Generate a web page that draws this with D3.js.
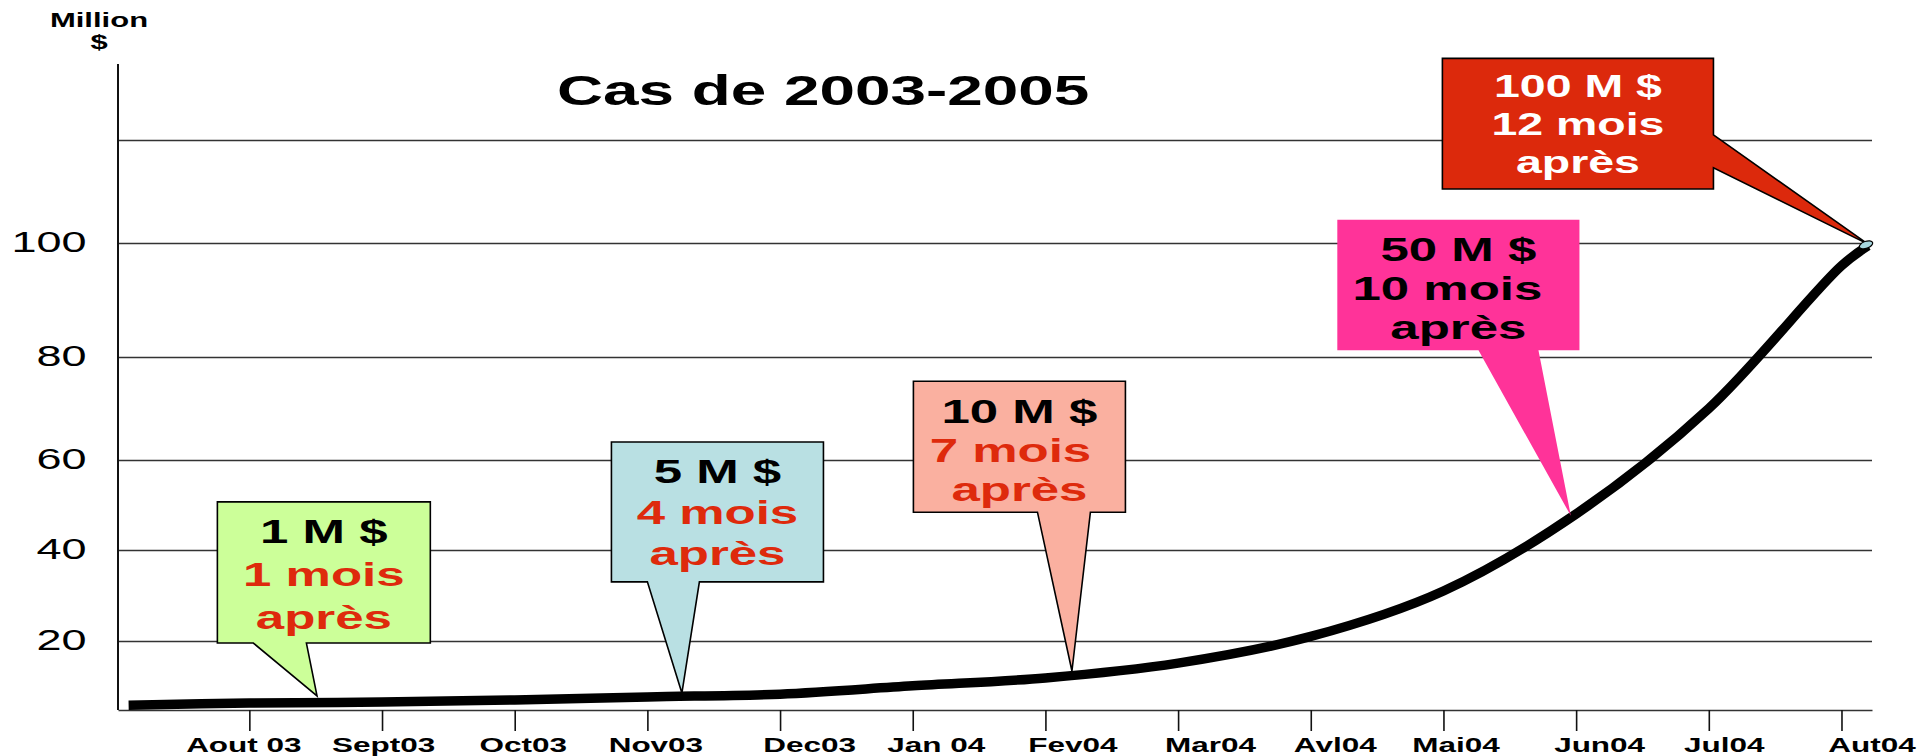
<!DOCTYPE html>
<html>
<head>
<meta charset="utf-8">
<script src="https://cdn.jsdelivr.net/npm/d3@7/dist/d3.min.js"></script>
<style>
  body { margin: 0; background: #fff; }
  svg { display: block; font-family: "Liberation Sans", Arial, sans-serif; }
</style>
</head>
<body>
<div id="chart"></div>
<script>
// ---- data ----
var months = ["Aout 03", "Sept03", "Oct03", "Nov03", "Dec03", "Jan 04", "Fev04",
              "Mar04", "Avl04", "Mai04", "Jun04", "Jul04", "Aut04"];
// position along the month axis (0 = Aout 03) and amount in million $
var curveMonth = [-0.91, 0, 1, 2, 3, 4, 5, 6, 7, 8, 9, 10, 11, 12, 12.2];
var curveValue = [1.4, 2.0, 2.3, 2.9, 3.8, 4.6, 7.0, 9.3, 13.6, 21, 31, 48, 70, 96, 99.5];
var yTicks = [20, 40, 60, 80, 100];
var gridValues = [20, 40, 60, 80, 100, 120];

var calloutAmount = ["1 M $", "5 M $", "10 M $", "50 M $", "100 M $"];
var calloutDelay = ["1 mois", "4 mois", "7 mois", "10 mois", "12 mois"];
var calloutAfter = "après";
var calloutTipMonth = [0.51, 3.26, 6.2, 9.96, 12.2];
var calloutTipValue = [4.1, 4.9, 11.3, 47.6, 99.8];

var title = "Cas de 2003-2005";

// ---- layout ----
var W = 1932, H = 756;
var SX = 1.5; // text in the original is stretched sideways
var RED = "#de2a0c";

// the value axis of the original is not evenly spaced
var yBreaks = [0, 20, 40, 60, 80, 100, 120, 134.8];
var yPixels = [710, 641, 550, 460, 357, 243, 140, 64];

// month labels sit a little to the right of their ticks in the original
var labelNudge = [-6, 1, 8, 8, 29, 23, 27, 32, 24, 12, 23, 15, 30];

var x = d3.scaleLinear().domain([-0.99, 12.23]).range([118, 1872]);
var y = d3.scaleLinear().domain(yBreaks).range(yPixels);

// callout boxes in chart units (month, value)
var boxes = [
    { x0: -0.241, x1: 1.364, top: 50.7, bottom: 19.4, base: [0.03, 0.43],
      fill: "#ccff99", stroke: "#000", colors: ["#000", RED, RED], size: 34, lead: 43, first: 41, shift: [0, 0, 0] },
    { x0: 2.729, x1: 4.327, top: 63.5, bottom: 33.0, base: [3.0, 3.392],
      fill: "#b9e0e3", stroke: "#000", colors: ["#000", RED, RED], size: 34, lead: 41, first: 41, shift: [0, 0, 0] },
    { x0: 5.005, x1: 6.603, top: 75.3, bottom: 48.4, base: [5.94, 6.339],
      fill: "#fab0a0", stroke: "#000", colors: ["#000", RED, RED], size: 34, lead: 39, first: 42, shift: [0, -9, 0] },
    { x0: 8.2, x1: 10.025, top: 104.5, bottom: 81.2, base: [9.264, 9.716],
      fill: "#ff3399", stroke: "none", colors: ["#000", "#000", "#000"], size: 34, lead: 39, first: 41, shift: [0, -11, 0] },
    { x0: 8.992, x1: 11.035, top: 135.9, bottom: 110.5, side: [121.0, 114.6],
      fill: "#dc290c", stroke: "#000", colors: ["#fff", "#fff", "#fff"], size: 31, lead: 38, first: 39, shift: [0, 0, 0] }
];

var svg = d3.select("#chart").append("svg")
    .attr("width", W)
    .attr("height", H);

// horizontal grid
svg.append("g")
    .attr("transform", "translate(" + x.range()[0] + ",0)")
    .call(d3.axisLeft(y).tickValues(gridValues).tickSize(-(x.range()[1] - x.range()[0])).tickFormat(""))
    .call(function (g) {
        g.select(".domain").remove();
        g.selectAll(".tick line").attr("stroke", "#333").attr("stroke-width", 1.3);
    });

// y labels
svg.append("g")
    .attr("transform", "translate(" + x.range()[0] + ",0)")
    .call(d3.axisLeft(y).tickValues(yTicks).tickSize(0).tickPadding(21))
    .call(function (g) {
        g.select(".domain").remove();
        g.selectAll(".tick text")
            .attr("dy", "0.27em")
            .attr("transform", "scale(" + SX + ",1)")
            .style("font-family", "'Liberation Sans', Arial, sans-serif")
            .style("font-size", "30px")
            .attr("fill", "#000");
    });

// y axis line
svg.append("line")
    .attr("x1", x.range()[0]).attr("x2", x.range()[0])
    .attr("y1", y(0)).attr("y2", y(134.8))
    .attr("stroke", "#111").attr("stroke-width", 2);

// x axis
svg.append("g")
    .attr("transform", "translate(0," + y(0) + ")")
    .call(d3.axisBottom(x).tickValues(d3.range(months.length)).tickFormat(function (i) { return months[i]; })
        .tickSize(21).tickSizeOuter(0).tickPadding(21))
    .call(function (g) {
        g.select(".domain").attr("stroke", "#333").attr("stroke-width", 1.3);
        g.selectAll(".tick line").attr("stroke", "#111").attr("stroke-width", 1.6);
        g.selectAll(".tick text")
            .attr("dy", "0")
            .attr("transform", function (i) { return "translate(" + labelNudge[i] + ",0) scale(1.5,1)"; })
            .style("font-family", "'Liberation Sans', Arial, sans-serif")
            .style("font-size", "21px")
            .style("font-weight", "bold")
            .attr("fill", "#000");
    });

// unit label
svg.append("text")
    .attr("transform", "translate(99,27) scale(1.55,1)")
    .attr("text-anchor", "middle")
    .style("font-size", "20px").style("font-weight", "bold")
    .text("Million");
svg.append("text")
    .attr("transform", "translate(99,49) scale(1.55,1)")
    .attr("text-anchor", "middle")
    .style("font-size", "20px").style("font-weight", "bold")
    .text("$");

// title
svg.append("text")
    .attr("transform", "translate(557,105) scale(1.52,1)")
    .style("font-size", "42px").style("font-weight", "bold")
    .text(title);

// growth curve
var pts = curveMonth.map(function (m, i) { return [m, curveValue[i]]; });
var line = d3.line()
    .x(function (d) { return x(d[0]); })
    .y(function (d) { return y(d[1]); })
    .curve(d3.curveCatmullRom.alpha(0.5));

svg.append("path")
    .datum(pts)
    .attr("d", line)
    .attr("fill", "none")
    .attr("stroke", "#000")
    .attr("stroke-width", 9.5);

// callouts
boxes.forEach(function (b, i) {
    var l = x(b.x0), r = x(b.x1), t = y(b.top), bt = y(b.bottom);
    var tx = x(calloutTipMonth[i]), ty = y(calloutTipValue[i]);
    var d;
    if (b.base) {
        d = "M" + l + "," + t + "H" + r + "V" + bt + "H" + x(b.base[1]) +
            "L" + tx + "," + ty + "L" + x(b.base[0]) + "," + bt + "H" + l + "Z";
    } else {
        d = "M" + l + "," + t + "H" + r + "V" + y(b.side[0]) +
            "L" + tx + "," + ty + "L" + r + "," + y(b.side[1]) + "V" + bt + "H" + l + "Z";
    }
    svg.append("path")
        .attr("d", d)
        .attr("fill", b.fill)
        .attr("stroke", b.stroke)
        .attr("stroke-width", 1.6)
        .attr("stroke-linejoin", "miter");

    var cx = (l + r) / 2;
    [calloutAmount[i], calloutDelay[i], calloutAfter].forEach(function (txt, k) {
        svg.append("text")
            .attr("transform", "translate(" + (cx + b.shift[k]) + "," + (t + b.first + k * b.lead) + ") scale(" + SX + ",1)")
            .attr("text-anchor", "middle")
            .style("font-size", b.size + "px")
            .style("font-weight", "bold")
            .attr("fill", b.colors[k])
            .text(txt);
    });
});

// little cap at the end of the curve
var last = pts[pts.length - 1];
svg.append("ellipse")
    .attr("cx", x(last[0]) - 2).attr("cy", y(last[1]) - 1)
    .attr("rx", 7).attr("ry", 3.5)
    .attr("transform", "rotate(-20," + (x(last[0]) - 2) + "," + (y(last[1]) - 1) + ")")
    .attr("fill", "#a6d6de")
    .attr("stroke", "#000")
    .attr("stroke-width", 1.2);
</script>
</body>
</html>
